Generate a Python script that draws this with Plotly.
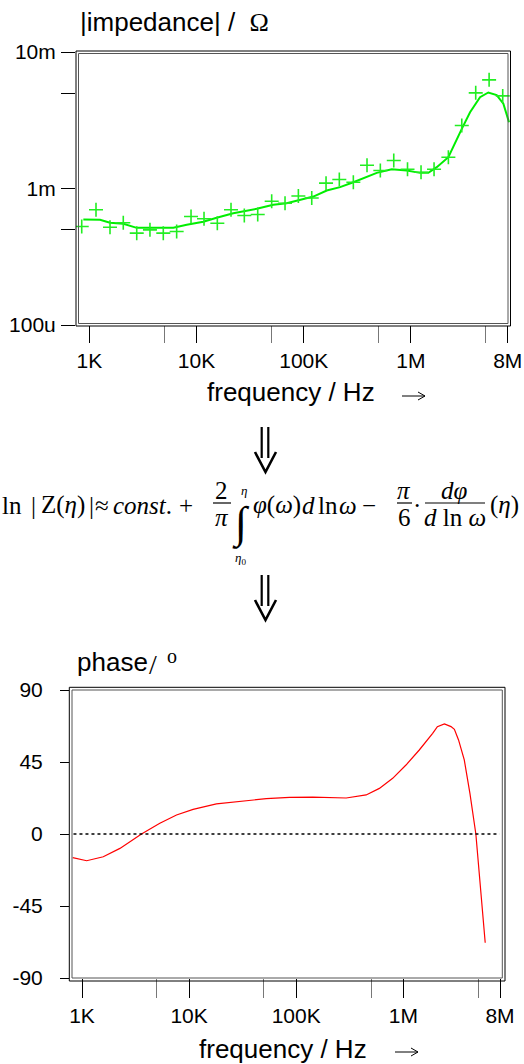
import plotly.graph_objects as go

W, H = 524, 1064

# ---------------- data ----------------
# impedance: measured points (crosses)
imp_freq = [850, 1155, 1560, 2075, 2770, 3680, 4900, 6530, 8890, 11750, 15640, 20980,
            27920, 37230, 50260, 66930, 89150, 118800, 161500, 214800, 290300, 389300,
            518300, 691500, 929000, 1.242e6, 1.643e6, 2.235e6, 2.98e6, 4.02e6, 5.36e6, 7.18e6]
imp_meas = [527e-6, 698e-6, 520e-6, 561e-6, 471e-6, 498e-6, 471e-6, 484e-6, 624e-6, 600e-6,
            557e-6, 698e-6, 634e-6, 645e-6, 807e-6, 780e-6, 881e-6, 852e-6, 1.094e-3, 1.164e-3,
            1.112e-3, 1.482e-3, 1.355e-3, 1.603e-3, 1.384e-3, 1.316e-3, 1.384e-3, 1.694e-3,
            2.897e-3, 5.02e-3, 6.25e-3, 4.77e-3]

# impedance: reconstructed curve (green line)
fit_freq = [880, 1259, 1560, 2075, 2770, 3566, 6080, 8110, 11560, 15420, 22030, 36460, 52060,
            69340, 92450, 123000, 164000, 218400, 290300, 480000, 662000, 914000, 1.216e6,
            1.453e6, 1.741e6, 2.234e6, 2.98e6, 3.56e6, 4.41e6, 5.27e6, 6.31e6, 7.28e6, 8.22e6]
fit_z = [593e-6, 590e-6, 561e-6, 551e-6, 515e-6, 515e-6, 515e-6, 542e-6, 570e-6, 610e-6,
         659e-6, 710e-6, 760e-6, 780e-6, 826e-6, 873e-6, 967e-6, 1.023e-3, 1.112e-3, 1.302e-3,
         1.384e-3, 1.355e-3, 1.302e-3, 1.302e-3, 1.433e-3, 1.694e-3, 2.735e-3, 3.62e-3,
         4.67e-3, 5.05e-3, 4.83e-3, 4.18e-3, 3.06e-3]

# phase curve (red line)
phase_freq = [819, 1106, 1580, 2260, 3594, 5330, 7630, 10900, 17990, 31840, 52600, 86700,
              143000, 293000, 450000, 598000, 796000, 1.06e6, 1.41e6, 1.88e6, 2.08e6, 2.42e6,
              2.79e6, 3.0e6, 3.28e6, 3.71e6, 4.19e6, 4.76e6, 5.23e6, 5.82e6]
phase_deg = [-14.8, -16.7, -14.2, -9.0, 0.0, 6.7, 11.9, 15.4, 18.8, 20.8, 22.1, 22.9,
             23.1, 22.5, 24.4, 28.5, 34.8, 43.1, 52.5, 62.9, 67.1, 68.8,
             67.1, 65.4, 58.8, 46.3, 25.4, 0.0, -30.0, -68.0]

# tick labels
freq_tickvals = [1e3, 1e4, 1e5, 1e6, 8e6]
freq_ticktext = ["1K", "10K", "100K", "1M", "8M"]
freq_minor = [5e3, 5e4, 5e5, 5e6]
imp_tickvals = [1e-4, 1e-3, 1e-2]
imp_ticktext = ["100u", "1m", "10m"]
imp_minor = [5e-4, 5e-3]
phase_tickvals = [-90, -45, 0, 45, 90]
phase_ticktext = ["-90", "-45", "0", "45", "90"]


def fx(p):
    return p / W


def fy(p):
    return 1 - p / H


SANS = "Liberation Sans, Arial, sans-serif"
SERIF = "Liberation Serif, Times New Roman, serif"

fig = go.Figure()
fig.add_trace(go.Scatter(x=fit_freq, y=fit_z, mode="lines",
                         line=dict(color="#00ee00", width=2), xaxis="x", yaxis="y",
                         hoverinfo="skip"))
fig.add_trace(go.Scatter(x=imp_freq, y=imp_meas, mode="markers",
                         marker=dict(symbol="cross-thin", size=10,
                                     line=dict(color="#22ee22", width=1.6)),
                         xaxis="x", yaxis="y"))
fig.add_trace(go.Scatter(x=phase_freq, y=phase_deg, mode="lines",
                         line=dict(color="#ff0000", width=1.2), xaxis="x2", yaxis="y2"))

tickfont = dict(family=SANS, size=21, color="black")

common_x = dict(type="log", showgrid=False, zeroline=False, showline=False,
                tickmode="array", tickvals=freq_tickvals, ticktext=freq_ticktext,
                ticks="outside", tickcolor="black", tickwidth=1.3, tickfont=tickfont)

fig.update_layout(
    width=W, height=H, margin=dict(l=0, r=0, t=0, b=0, pad=0, autoexpand=False),
    autosize=False,
    paper_bgcolor="white", plot_bgcolor="white", showlegend=False,
    font=dict(family=SANS, color="black"),
    xaxis=dict(common_x, domain=[fx(76), fx(510)], range=[2.876, 6.924], anchor="y",
               ticklen=17, ticklabelstandoff=0, automargin=False,
               minor=dict(tickmode="array", tickvals=freq_minor, ticks="outside",
                          tickcolor="#777777", tickwidth=1.3, ticklen=17)),
    yaxis=dict(type="log", domain=[fy(325), fy(52)], range=[-4, -2], anchor="x",
               showgrid=False, zeroline=False, showline=False, tickmode="array",
               tickvals=imp_tickvals, ticktext=imp_ticktext, ticks="outside", ticklen=14,
               tickcolor="black", tickwidth=1.3, tickfont=tickfont, ticklabelstandoff=1,
               automargin=False,
               minor=dict(tickmode="array", tickvals=imp_minor, ticks="outside",
                          tickcolor="black", tickwidth=1.3, ticklen=14)),
    xaxis2=dict(common_x, domain=[fx(70), fx(503)], range=[2.888, 6.931], anchor="y2",
                ticklen=19, ticklabelstandoff=0, automargin=False,
                minor=dict(tickmode="array", tickvals=freq_minor, ticks="outside",
                           tickcolor="#777777", tickwidth=1.3, ticklen=19)),
    yaxis2=dict(domain=[fy(978), fy(690)], range=[-90, 90], anchor="x2",
                showgrid=False, zeroline=False, showline=False, tickmode="array",
                tickvals=phase_tickvals, ticktext=phase_ticktext, ticks="outside", ticklen=9,
                tickcolor="black", tickwidth=1.3, tickfont=tickfont, ticklabelstandoff=13,
                automargin=False),
)

shapes = []


def rect(x0, y0, x1, y1, color, width=1):
    shapes.append(dict(type="rect", xref="paper", yref="paper", x0=fx(x0), x1=fx(x1),
                       y0=fy(y1), y1=fy(y0), line=dict(color=color, width=width),
                       fillcolor="rgba(0,0,0,0)", layer="above"))


# double frames
rect(76, 51, 510.5, 326, "black")
rect(78.5, 53.5, 508, 323.5, "#555555")
rect(69.3, 687.3, 505, 981, "black")
rect(72, 690, 502.3, 978, "#555555")

# zero line in phase plot
shapes.append(dict(type="line", xref="x2 domain", yref="y2", x0=0.008, x1=0.992, y0=0, y1=0,
                   line=dict(color="black", width=1.5, dash="dot")))


def line(x0, y0, x1, y1, width):
    shapes.append(dict(type="line", xref="paper", yref="paper", x0=fx(x0), x1=fx(x1),
                       y0=fy(y0), y1=fy(y1), line=dict(color="black", width=width)))


def darrow(top):
    # double downward arrow
    for xs in (261.7, 268.3):
        line(xs, top, xs, top + 31, 2.2)
    path = "M {} {} L {} {} L {} {}".format(fx(255), fy(top + 25), fx(265.5), fy(top + 45),
                                          fx(276), fy(top + 25))
    shapes.append(dict(type="path", xref="paper", yref="paper", path=path,
                       line=dict(color="black", width=2.6)))


darrow(427)
darrow(575)


def rarrow(x0, x1, y):
    # thin right arrow after axis title
    line(x0, y, x1, y, 1)
    line(x1 - 7, y - 4, x1, y, 1)
    line(x1 - 7, y + 4, x1, y, 1)


rarrow(402, 425, 396)
rarrow(395, 418, 1052)

# fraction bars
line(213, 503, 231, 503, 1.2)
line(397, 503, 412, 503, 1.2)
line(425, 503, 485, 503, 1.2)

fig.update_layout(shapes=shapes)

ann = []


def text(t, x, y, size, family=SANS, xanchor="center", yanchor="middle"):
    ann.append(dict(text=t, x=fx(x), y=fy(y), xref="paper", yref="paper", showarrow=False,
                    xanchor=xanchor, yanchor=yanchor, font=dict(family=family, size=size,
                                                                color="black")))


# titles
text("|impedance| /\u00a0\u00a0<span style='font-family:Liberation Serif'>Ω</span>", 78, 22, 26,
     xanchor="left")
text("phase", 75, 662, 26, xanchor="left")
text("/", 153, 664, 28, family=SERIF)
text("o", 172, 656, 20, family=SERIF)
text("frequency / Hz", 290.5, 392, 26)
text("frequency / Hz", 283.3, 1049, 26)

# equation
E = 25
text("ln", 11.5, 505, E, SERIF)
text("|", 33, 505, E, SERIF)
text("Z(<i>η</i>)", 63.3, 505, E, SERIF)
text("|", 91.7, 505, E, SERIF)
text("≈", 101.5, 505, E, SERIF)
text("<i>const</i>.", 142.5, 505, E, SERIF)
text("+", 185.7, 505, E, SERIF)
text("2", 221.7, 490, E, SERIF)
text("<i>π</i>", 221.7, 517, E, SERIF)
text("∫", 241, 524, 44, SERIF)
text("<i>η</i>", 244, 490, 13, SERIF)
text("<i>η</i><sub>0</sub>", 240, 558, 13, SERIF)
text("<i>φ</i>(<i>ω</i>)", 276.7, 505, E, SERIF)
text("<i>d</i>", 308.3, 505, E, SERIF)
text("ln", 327.5, 505, E, SERIF)
text("<i>ω</i>", 347.5, 505, E, SERIF)
text("−", 368.5, 505, E, SERIF)
text("<i>π</i>", 404, 490, E, SERIF)
text("6", 404, 517, E, SERIF)
text("·", 416.7, 505, E, SERIF)
text("<i>dφ</i>", 454, 490, E, SERIF)
text("<i>d</i>\u00a0ln\u00a0<i>ω</i>", 455, 517, E, SERIF)
text("(<i>η</i>)", 504.5, 505, E, SERIF)

fig.update_layout(annotations=ann)

fig.write_html("out.html")
